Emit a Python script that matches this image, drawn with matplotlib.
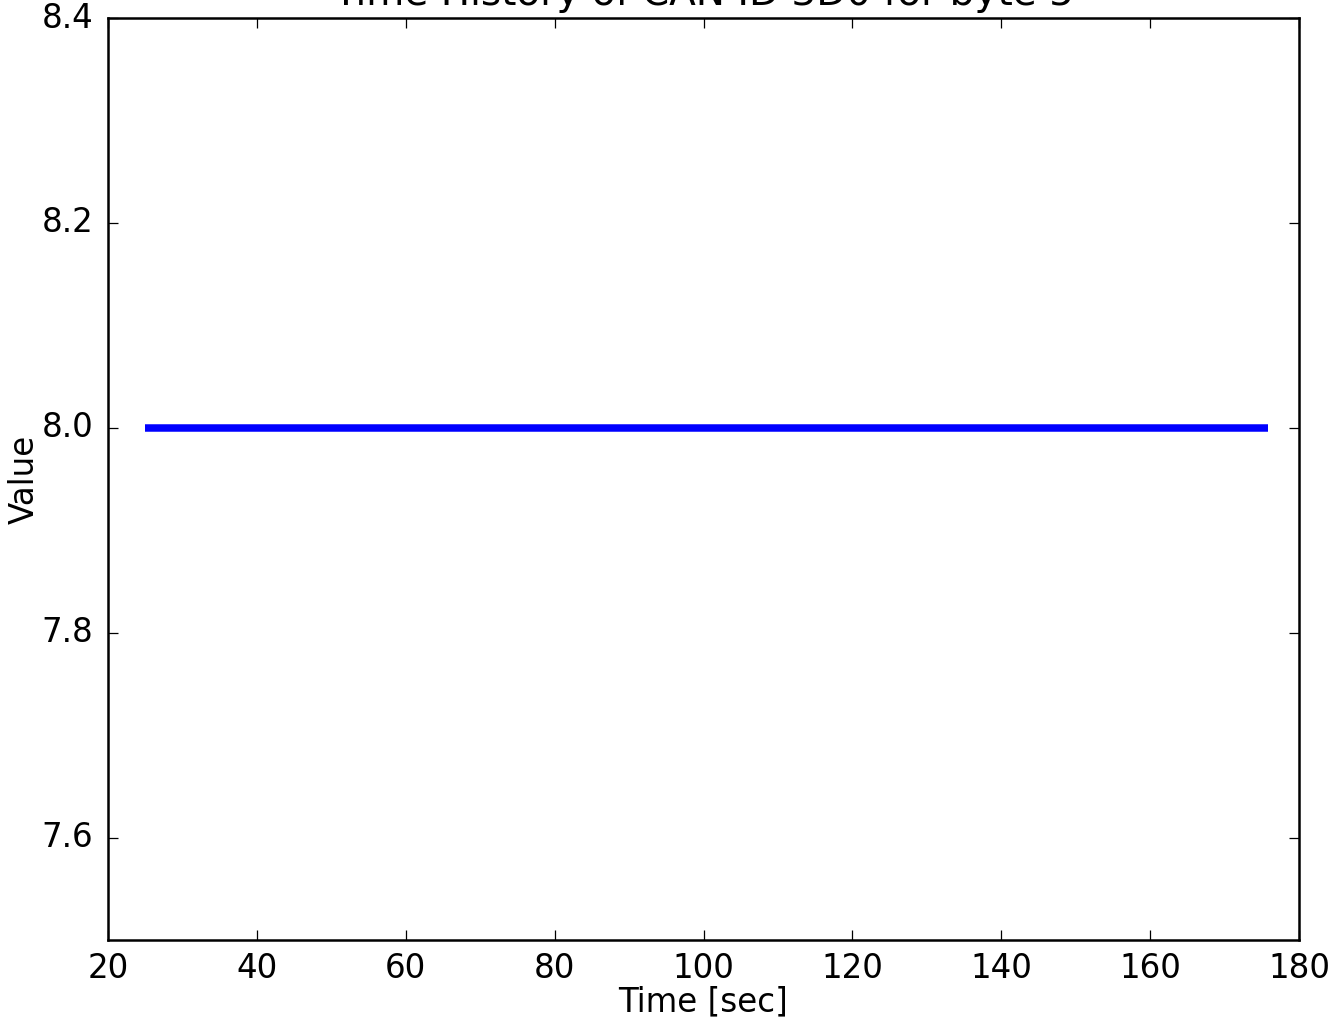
import matplotlib
matplotlib.use('Agg')
import matplotlib.pyplot as plt

# CAN ID 3D0, byte 5: constant value over the log
time_sec = [25.0, 175.8]
value = [8.0, 8.0]

plt.style.use('classic')
plt.rcParams['font.size'] = 13

fig = plt.figure(figsize=(1338 / 180, 1020 / 180), dpi=180)
ax = fig.add_axes([108 / 1338, 80 / 1020, (1299 - 108) / 1338, (940 - 18) / 1020])

ax.plot(time_sec, value, '-', color='blue', linewidth=3.0, solid_capstyle='butt')

ax.set_xlim(20, 180)
ax.set_ylim(7.5, 8.4)
ax.set_yticks([7.6, 7.8, 8.0, 8.2, 8.4])
ax.tick_params(axis='x', pad=5)
ax.tick_params(axis='y', pad=6)
ax.set_xlabel('Time [sec]', labelpad=0)
ax.set_ylabel('Value', labelpad=0)
ax.set_title('Time History of CAN ID 3D0 for byte 5')

fig.savefig('out.png', dpi=180)
